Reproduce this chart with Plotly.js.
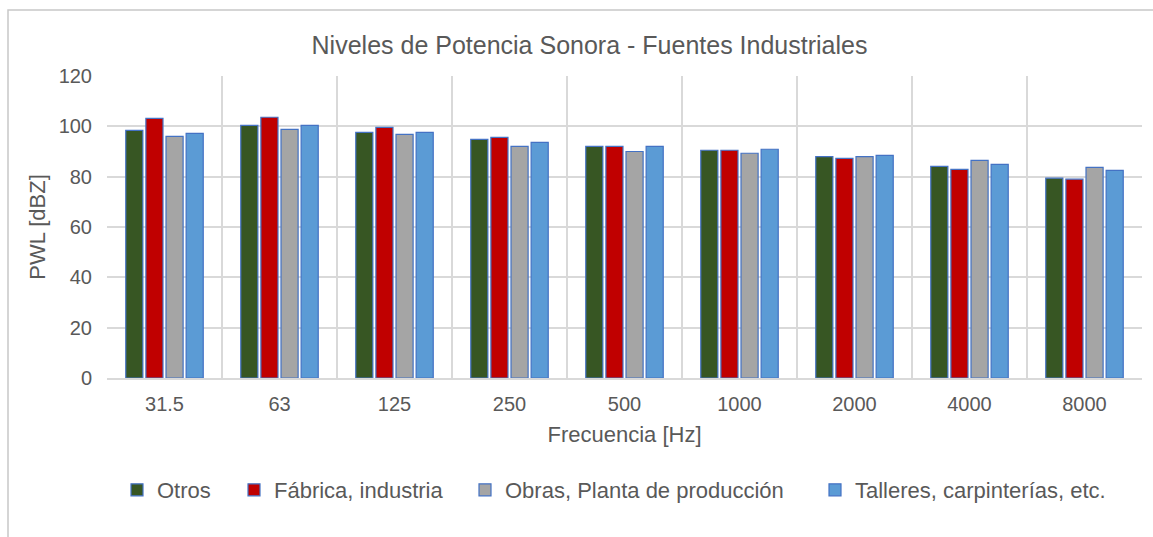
<!DOCTYPE html>
<html>
<head>
<meta charset="utf-8">
<script src="https://cdn.plot.ly/plotly-3.0.1.min.js"></script>
<style>html,body{margin:0;padding:0;background:#fff;}#chart{width:1153px;height:537px;}</style>
</head>
<body>
<div id="chart"></div>
<script>
const categories = ["31.5", "63", "125", "250", "500", "1000", "2000", "4000", "8000"];
const seriesNames = ["Otros", "Fábrica, industria", "Obras, Planta de producción", "Talleres, carpinterías, etc."];
const otros = [98.4, 100.4, 97.6, 94.8, 92.0, 90.5, 88.0, 84.1, 79.4];
const fabrica = [103.2, 103.6, 99.6, 95.6, 92.0, 90.5, 87.3, 82.9, 79.0];
const obras = [96.0, 98.8, 96.8, 92.0, 90.0, 89.3, 88.0, 86.5, 83.7];
const talleres = [97.2, 100.4, 97.6, 93.6, 92.0, 90.9, 88.5, 84.9, 82.5];
const yTicks = [0, 20, 40, 60, 80, 100, 120];

const colors = ["#375623", "#C00000", "#A5A5A5", "#5B9BD5"];
const values = [otros, fabrica, obras, talleres];
const legendIds = ["legend", "legend2", "legend3", "legend4"];
const FONT = "Liberation Sans, Arial, sans-serif";
const TXT = "#595959";

const traces = values.map((v, i) => ({
  type: "bar",
  name: seriesNames[i],
  x: categories,
  y: v,
  legend: legendIds[i],
  showlegend: true,
  marker: {color: colors[i], line: {color: "#4472C4", width: 1.2}},
  hoverinfo: "x+y+name"
}));

const legendX = [117, 234, 465, 815];
const legendCommon = {
  orientation: "h",
  xref: "container", yref: "container",
  xanchor: "left", yanchor: "middle",
  y: 1 - 490 / 537,
  font: {family: FONT, size: 22, color: TXT},
  bgcolor: "rgba(0,0,0,0)",
  borderwidth: 0,
  visible: true
};
const layout = {
  width: 1153, height: 537,
  showlegend: true,
  paper_bgcolor: "#ffffff", plot_bgcolor: "#ffffff",
  margin: {l: 107, r: 11, t: 76, b: 159},
  font: {family: FONT, color: TXT},
  title: {
    text: "Niveles de Potencia Sonora - Fuentes Industriales",
    font: {family: FONT, size: 25, color: TXT},
    xref: "container", yref: "container",
    x: 589.5 / 1153, xanchor: "center",
    y: 1 - 45 / 537, yanchor: "middle"
  },
  barmode: "group",
  bargap: 0.3,
  bargroupgap: 0.15,
  xaxis: {
    type: "category",
    tickson: "boundaries",
    showgrid: true, gridcolor: "#D9D9D9", gridwidth: 1.5,
    showline: true, linecolor: "#D9D9D9", linewidth: 1.5,
    ticks: "", ticklabelstandoff: 7,
    tickfont: {family: FONT, size: 20, color: TXT},
    title: {text: "Frecuencia [Hz]", font: {family: FONT, size: 22, color: TXT}, standoff: 13},
    zeroline: false, fixedrange: true
  },
  yaxis: {
    range: [0, 120],
    tickvals: yTicks,
    ticktext: yTicks.map(String),
    showgrid: true, gridcolor: "#D9D9D9", gridwidth: 1.5,
    showline: false, zeroline: false,
    ticks: "", ticklabelstandoff: 14,
    tickfont: {family: FONT, size: 20, color: TXT},
    title: {text: "PWL [dBZ]", font: {family: FONT, size: 22, color: TXT}, standoff: 6},
    fixedrange: true
  },
  shapes: [{
    type: "rect", xref: "paper", yref: "paper",
    x0: (8 - 107) / 1035, x1: (1170 - 107) / 1035,
    y0: (378 - 560) / 302, y1: (378 - 10) / 302,
    line: {color: "#C8C8C8", width: 1.5}, fillcolor: "rgba(0,0,0,0)", layer: "below"
  }]
};
legendIds.forEach((id, i) => {
  layout[id] = Object.assign({}, legendCommon, {x: legendX[i] / 1153});
});

Plotly.newPlot("chart", traces, layout, {displayModeBar: false});
</script>
</body>
</html>
